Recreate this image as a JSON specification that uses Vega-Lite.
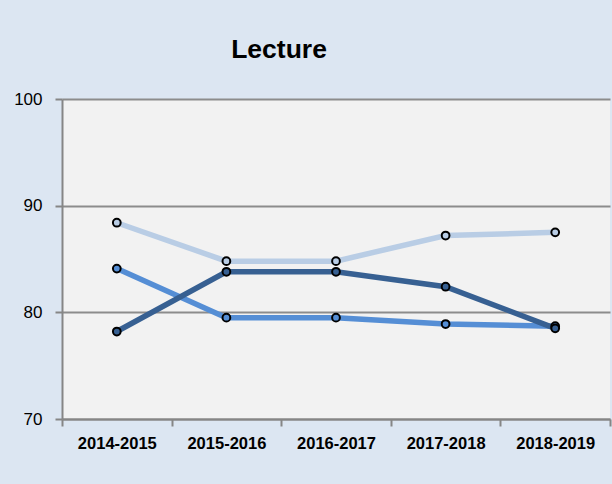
{
  "$schema": "https://vega.github.io/schema/vega-lite/v6.json",
  "width": 548,
  "height": 320,
  "autosize": {"type": "none"},
  "padding": {"left": 62, "top": 99, "right": 2, "bottom": 65},
  "background": "#dce6f2",
  "title": {"text": "Lecture", "anchor": "middle", "dx": -57, "offset": 27, "font": "Liberation Sans", "fontSize": 26.5, "fontWeight": "bold", "color": "#000000"},
  "config": {"view": {"fill": "#f2f2f2", "stroke": null}},
  "data": {"values": [
    {"annee": "2014-2015", "serie": "S1", "valeur": 88.4},
    {"annee": "2015-2016", "serie": "S1", "valeur": 84.8},
    {"annee": "2016-2017", "serie": "S1", "valeur": 84.8},
    {"annee": "2017-2018", "serie": "S1", "valeur": 87.2},
    {"annee": "2018-2019", "serie": "S1", "valeur": 87.5},
    {"annee": "2014-2015", "serie": "S2", "valeur": 84.1},
    {"annee": "2015-2016", "serie": "S2", "valeur": 79.5},
    {"annee": "2016-2017", "serie": "S2", "valeur": 79.5},
    {"annee": "2017-2018", "serie": "S2", "valeur": 78.9},
    {"annee": "2018-2019", "serie": "S2", "valeur": 78.7},
    {"annee": "2014-2015", "serie": "S3", "valeur": 78.2},
    {"annee": "2015-2016", "serie": "S3", "valeur": 83.8},
    {"annee": "2016-2017", "serie": "S3", "valeur": 83.8},
    {"annee": "2017-2018", "serie": "S3", "valeur": 82.4},
    {"annee": "2018-2019", "serie": "S3", "valeur": 78.5}
  ]},
  "encoding": {
    "x": {"field": "annee", "type": "ordinal", "title": null,
      "scale": {"type": "band", "paddingInner": 0, "paddingOuter": 0},
      "axis": {"tickBand": "extent", "labelAngle": 0, "labelFont": "Liberation Sans", "labelFontSize": 16.5, "labelFontWeight": "bold", "labelColor": "#000000", "labelPadding": 9, "tickSize": 7, "tickWidth": 2, "tickColor": "#868686", "domainColor": "#868686", "domainWidth": 2, "grid": false}},
    "y": {"field": "valeur", "type": "quantitative", "title": null,
      "scale": {"domain": [70, 100], "nice": false, "zero": false},
      "axis": {"values": [70, 80, 90, 100], "labelFont": "Liberation Sans", "labelFontSize": 17, "labelColor": "#000000", "labelPadding": 13, "tickSize": 7, "tickWidth": 2, "tickColor": "#868686", "domainColor": "#868686", "domainWidth": 2, "grid": true, "gridColor": "#8c8c8c", "gridWidth": 2}},
    "color": {"field": "serie", "type": "nominal", "legend": null,
      "scale": {"domain": ["S1", "S2", "S3"], "range": ["#b9cde5", "#558ed5", "#376092"]}}
  },
  "layer": [
    {"mark": {"type": "line", "strokeWidth": 5.5}},
    {"mark": {"type": "point", "filled": true, "size": 60, "stroke": "#000000", "strokeWidth": 2, "opacity": 1}}
  ]
}
